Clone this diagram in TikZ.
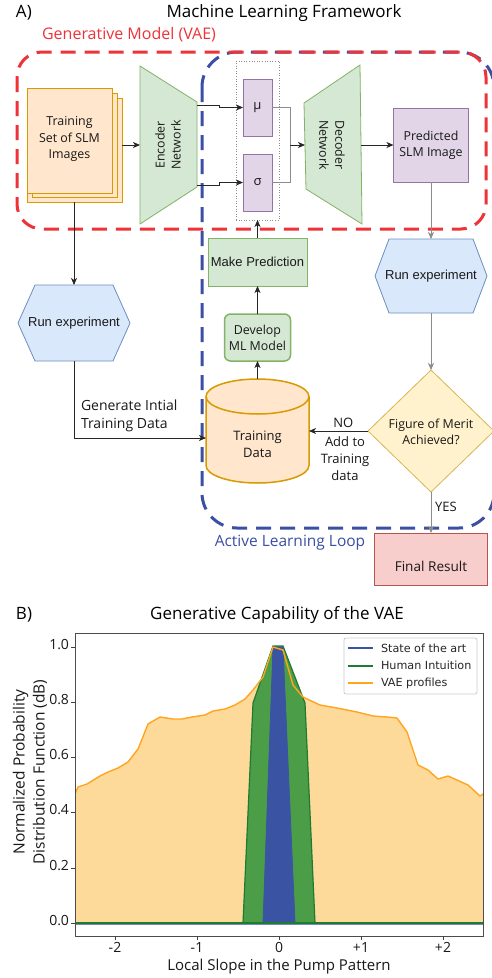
\documentclass[tikz,border=0pt]{standalone}
\usepackage{fontspec}
\setmainfont{Open Sans}
\newfontfamily\helv{Liberation Sans}
\newfontfamily\djv{DejaVu Sans}
\usetikzlibrary{arrows.meta,calc}
\newcommand\fsz[1]{\fontsize{#1}{\fpeval{#1*1.3}}\selectfont}
\definecolor{orgfill}{HTML}{FFE6CC}
\definecolor{orgline}{HTML}{D79B00}
\definecolor{grnfill}{HTML}{D5E8D4}
\definecolor{grnline}{HTML}{82B366}
\definecolor{purfill}{HTML}{E1D5E7}
\definecolor{purline}{HTML}{9673A6}
\definecolor{blufill}{HTML}{DAE8FC}
\definecolor{bluline}{HTML}{6C8EBF}
\definecolor{yelfill}{HTML}{FFF2CC}
\definecolor{yelline}{HTML}{D6B656}
\definecolor{redfill}{HTML}{F8CECC}
\definecolor{redline}{HTML}{B85450}
\definecolor{vaered}{HTML}{EE3338}
\definecolor{loopblue}{HTML}{3B4FA3}
\definecolor{pOrFill}{HTML}{FDD99A}
\definecolor{pOr}{HTML}{FFA520}
\definecolor{pGrFill}{HTML}{4B9E47}
\definecolor{pGr}{HTML}{1E7B30}
\definecolor{pBl}{HTML}{3A54A3}
\begin{document}
\begin{tikzpicture}[x=1pt,y=-1pt,
  every node/.style={inner sep=0pt, outer sep=0pt},
  txt/.style={align=center, font=\fsz{12.4}, text=black!90},
  htxt/.style={align=center, font=\helv\fsz{13}, text=black!90},
  arr/.style={-{Stealth[length=7pt,width=6pt,inset=2pt]}, line width=0.8pt, draw=black!85},
  garr/.style={arr, draw=black!45},
  gline/.style={line width=0.8pt, draw=black!45},
  frame/.style={line width=3pt, dash pattern=on 15pt off 9pt},
  pur/.style={draw=purline, fill=purfill, line width=0.8pt},
  grn/.style={draw=grnline, fill=grnfill, line width=0.8pt},
  org/.style={draw=orgline, fill=orgfill, line width=0.8pt},
  blu/.style={draw=bluline, fill=blufill, line width=0.8pt},
  tick/.style={line width=0.8pt, draw=black!75},
  ticklab/.style={font=\fsz{14}, text=black!90}
]
\useasboundingbox (0,0) rectangle (492,978);
\fill[white] (0,0) rectangle (492,978);

% ---------- Part A ----------
\node[anchor=west, font=\fsz{17}] (labA) at (16,13) {A)};
\node[font=\fsz{17}] (titleA) at (284,13) {Machine Learning Framework};
\node[font=\fsz{16}, text=vaered] (vaelab) at (129,35) {Generative Model (VAE)};

% frames
\draw[frame, loopblue, rounded corners=35pt] (202,52) rectangle (494,528);
\draw[frame, vaered, rounded corners=25pt] (17,52) rectangle (486,229);
\node[font=\fsz{15.5}, text=loopblue] (looplab) at (290,543) {Active Learning Loop};

% training set stack
\filldraw[org] (27,98) rectangle (122,202);
\filldraw[org] (32,93) rectangle (117,197);
\filldraw[org] (27,88) rectangle (112,193);
\node[minimum width=96pt, minimum height=114pt] (trainset) at (74,145) {};
\node[txt, font=\fsz{12.4}] (trainsettxt) at (69.5,139) {Training\\Set of SLM\\Images};

% encoder
\filldraw[grn] (140,66) -- (197,102) -- (197,187) -- (140,224) -- cycle;
\node[txt, rotate=90] (enc) at (168,145) {Encoder\\Network};
\coordinate (encO1) at (197,105);
\coordinate (encO2) at (197,185);
\coordinate (encIn) at (140,145);
\draw[arr] (trainset.east |- encIn) -- (encIn);

% latent
\node[draw=black!45, dotted, line width=0.6pt, minimum width=43pt, minimum height=159pt] (latent) at (257.5,140.5) {};
\node[pur, txt, font=\fsz{13}, minimum width=29pt, minimum height=57pt] (mu) at (257.5,107.5) {μ};
\node[pur, txt, font=\fsz{13}, minimum width=29pt, minimum height=57pt] (sigma) at (257.5,182.5) {σ};
\draw[arr] (encO1) -- (219,105) -- (219,107.5) -- (mu.west);
\draw[arr] (encO2) -- (219,185) -- (219,182.5) -- (sigma.west);

% decoder
\filldraw[grn] (304,103) -- (360,65) -- (362,224) -- (306,189) -- cycle;
\node[txt, rotate=-90] (dec) at (332,145) {Decoder\\Network};
\coordinate (decIn) at (305,145);
\coordinate (decOut) at (361,145);
\coordinate (merge) at (290,145);
\draw[gline] (mu.east) -- (290,107.5) -- (merge);
\draw[gline] (sigma.east) -- (290,182.5) -- (merge);
\draw[arr] (merge) -- (decIn);

% predicted
\node[pur, txt, minimum width=75pt, minimum height=74pt] (pred) at (431,145) {Predicted\\SLM Image};
\draw[arr] (decOut) -- (pred.west);

% right column
\node[minimum width=112pt, minimum height=74pt] (runR) at (431,276) {};
\filldraw[blu] (runR.west) -- ($(runR.north west)+(14,0)$) -- ($(runR.north east)+(-14,0)$) -- (runR.east) -- ($(runR.south east)+(-14,0)$) -- ($(runR.south west)+(14,0)$) -- cycle;
\node[htxt] (runRtxt) at (runR) {Run experiment};
\draw[garr] (pred.south) -- (runR.north);

\node[minimum width=126pt, minimum height=122pt] (fom) at (431,431) {};
\filldraw[draw=yelline, fill=yelfill, line width=0.8pt] (fom.west) -- (fom.north) -- (fom.east) -- (fom.south) -- cycle;
\node[txt] (fomtxt) at (431,432) {Figure of Merit\\Achieved?};
\draw[garr] (runR.south) -- (fom.north);

\node[draw=redline, fill=redfill, line width=0.8pt, minimum width=113pt, minimum height=52pt] (final) at (431,559) {};
\node[txt, font=\fsz{13.6}] (finaltxt) at (431,566) {Final Result};
\draw[garr] (fom.south) -- (final.north) node[pos=0.37, anchor=west, xshift=4pt, txt, font=\fsz{13}] (yes) {YES};

% centre column
\node[grn, htxt, minimum width=99pt, minimum height=48pt] (mkp) at (257.5,262) {Make Prediction};
\node[draw=grnline, fill=grnfill, line width=1.5pt, rounded corners=6pt, txt, minimum width=66pt, minimum height=47pt] (dev) at (257.5,337.5) {Develop\\ML Model};

\node[minimum width=103pt, minimum height=104pt] (data) at (257.5,431) {};
\filldraw[draw=orgline, fill=orgfill, line width=1.5pt] (206,396.5) -- (206,465.5) .. controls (206,475.17) and (229.06,483) .. (257.5,483) .. controls (285.94,483) and (309,475.17) .. (309,465.5) -- (309,396.5) .. controls (309,386.83) and (285.94,379) .. (257.5,379) .. controls (229.06,379) and (206,386.83) .. (206,396.5) -- cycle;
\draw[orgline, line width=1.5pt] (206,396.5) .. controls (206,406.17) and (229.06,414) .. (257.5,414) .. controls (285.94,414) and (309,406.17) .. (309,396.5);
\node[txt, font=\fsz{13}] (datatxt) at (257.5,444) {Training\\Data};

\draw[arr] (data.north) -- (dev.south);
\draw[arr] (dev.north) -- (mkp.south);
\draw[arr] (mkp.north) -- (latent.south);
\draw[arr] (fom.west) -- (data.east)
  node[pos=0.42, anchor=south, yshift=3pt, txt, font=\fsz{13}] (nolab) {NO}
  node[pos=0.39, anchor=north, yshift=-6pt, txt, font=\fsz{13}] (addlab) {Add to\\Training\\data};

% left column
\node[minimum width=112pt, minimum height=76pt] (runL) at (74,323) {};
\filldraw[blu] (runL.west) -- ($(runL.north west)+(17,0)$) -- ($(runL.north east)+(-17,0)$) -- (runL.east) -- ($(runL.south east)+(-17,0)$) -- ($(runL.south west)+(17,0)$) -- cycle;
\node[htxt] (runLtxt) at (runL) {Run experiment};
\draw[arr] (trainset.south) -- (runL.north);
\coordinate (dataIn) at (206,438);
\draw[arr] (runL.south) |- (dataIn);
\node[anchor=south west, align=left, font=\fsz{14}, text=black!90] (genlab) at (81,432) {Generate Intial\\Training Data};

% ---------- Part B ----------
\node[anchor=west, font=\fsz{17}] (labB) at (16,615) {B)};
\node[font=\fsz{17}] (titleB) at (277,615) {Generative Capability of the VAE};

\begin{scope}
\clip (75,633) rectangle (483,936);
\fill[pOrFill] (75,923) -- (75,794) -- (78,787) -- (87,784) -- (100,776) -- (108,772) -- (118,768) -- (128,762) -- (138,749) -- (148,724) -- (160,717) -- (173,719) -- (182,719) -- (192,717) -- (205,715) -- (213,711) -- (225,709) -- (235,705) -- (245,699) -- (253,690) -- (263,677) -- (273,647) -- (283,650) -- (293,685) -- (303,697) -- (320,705) -- (337,708) -- (357,712) -- (373,716) -- (387,717) -- (397,718) -- (407,732) -- (418,765) -- (428,770) -- (438,779) -- (448,776) -- (457,780) -- (468,785) -- (480,796) -- (483,794) -- (483,923) -- cycle;
\filldraw[fill=pGrFill, draw=pGr, line width=1.2pt] (243,923) -- (253,703) -- (273,646) -- (283,646) -- (305,703) -- (315,923) -- cycle;
\filldraw[fill=pBl, draw=pBl, line width=0.8pt] (263,923) -- (273,647) -- (283,647) -- (295,923) -- cycle;
\draw[pBl!70, line width=1pt] (75,924.5) -- (483,924.5);
\draw[pGr, line width=1.4pt] (75,923) -- (483,923);
\draw[pOr, line width=1.4pt, line join=round] (75,794) -- (78,787) -- (87,784) -- (100,776) -- (108,772) -- (118,768) -- (128,762) -- (138,749) -- (148,724) -- (160,717) -- (173,719) -- (182,719) -- (192,717) -- (205,715) -- (213,711) -- (225,709) -- (235,705) -- (245,699) -- (253,690) -- (263,677) -- (273,647) -- (283,650) -- (293,685) -- (303,697) -- (320,705) -- (337,708) -- (357,712) -- (373,716) -- (387,717) -- (397,718) -- (407,732) -- (418,765) -- (428,770) -- (438,779) -- (448,776) -- (457,780) -- (468,785) -- (480,796) -- (483,794);
\end{scope}
\node[draw=black!70, line width=0.8pt, minimum width=408pt, minimum height=303pt] (axes) at (279,784.5) {};

% x ticks
\foreach \xv/\lab in {115/-2, 197/-1, 279/0, 361/+1, 443/+2} {
  \draw[tick] (\xv,936) -- (\xv,940);
  \node[ticklab, anchor=north] at (\xv,942) {\lab};
}
% y ticks
\foreach \yv/\lab in {923/0.0, 868/0.2, 812/0.4, 757/0.6, 702/0.8, 647/1.0} {
  \draw[tick] (75,\yv) -- (71,\yv);
  \node[ticklab, anchor=east] at (69,\yv-2) {\lab};
}
\node[font=\fsz{15}, text=black!90] (xlab) at (279,967) {Local Slope in the Pump Pattern};
\node[font=\fsz{15.5}, text=black!90, rotate=90, align=center] (ylab) at (30,772) {Normalized Probability\\Distribution Function (dB)};

% legend
\node[draw=black!20, fill=white, rounded corners=2pt, line width=0.8pt, minimum width=133pt, minimum height=56pt] (legend) at (410.5,666) {};
\coordinate (lg1) at (348,648);
\coordinate (lg2) at (348,665.5);
\coordinate (lg3) at (348,683);
\draw[pBl, line width=2pt] (lg1) -- ++(25,0);
\draw[pGr, line width=2pt] (lg2) -- ++(25,0);
\draw[pOr, line width=2pt] (lg3) -- ++(25,0);
\node[anchor=west, font=\djv\fsz{11.2}, text=black!85] (lt1) at (381,648) {State of the art};
\node[anchor=west, font=\djv\fsz{11.2}, text=black!85] (lt2) at (381,665.5) {Human Intuition};
\node[anchor=west, font=\djv\fsz{11.2}, text=black!85] (lt3) at (381,683) {VAE profiles};
\end{tikzpicture}
\end{document}
